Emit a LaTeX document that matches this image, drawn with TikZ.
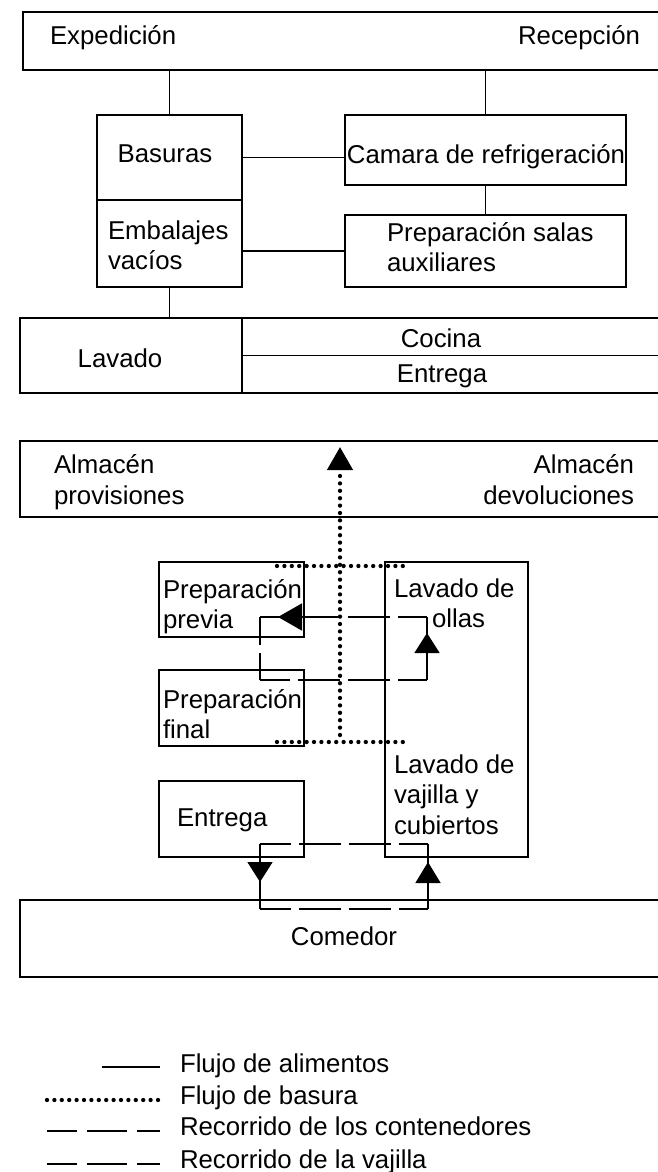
\documentclass[tikz,border=0pt]{standalone}
\usepackage{fontspec}
\setmainfont{Liberation Sans}
\usetikzlibrary{arrows.meta}
\begin{document}
\begin{tikzpicture}[x=1pt,y=-1pt,
  font=\fontsize{25.8}{30.5}\selectfont,
  box/.style={draw, line width=1.7pt, inner sep=0pt, outer sep=0pt},
  lbl/.style={inner sep=0pt, outer sep=0pt},
  food/.style={line width=1.7pt},
  waste/.style={line width=4.3pt, line cap=round, dash pattern=on 0pt off 7.4pt},
  cont/.style={line width=1.7pt, dash pattern=on 42pt off 8pt, dash phase=13pt},
  legdash/.style={line width=1.7pt, dash pattern=on 40pt off 10pt, dash phase=10pt}]
\path[use as bounding box] (0,0) rectangle (658,1172);
\clip (0,0) rectangle (658,1172);

% ---------- upper diagram ----------
\node[box, anchor=north west, minimum width=700pt, minimum height=58pt] (top) at (23,12) {};
\node[box, minimum width=145pt, minimum height=85pt] (basuras) at (169.5,157.5) {};
\node[box, minimum width=145pt, minimum height=87pt] (embalajes) at (169.5,243.5) {};
\node[box, minimum width=281pt, minimum height=70pt] (camara) at (485.5,150) {};
\node[box, minimum width=281pt, minimum height=72pt] (prepsalas) at (485.5,251) {};
\node[box, anchor=north west, minimum width=700pt, minimum height=75pt] (lavbox) at (20,318) {};

\draw[food] (basuras.north) -- (basuras.north |- top.south);
\draw[food] (camara.north) -- (camara.north |- top.south);
\draw[food] (basuras.east) -- (basuras.east -| camara.west);
\draw[food] (camara.south) -- (prepsalas.north);
\draw[food] (prepsalas.west -| embalajes.east) -- (prepsalas.west);
\draw[food] (embalajes.south) -- (embalajes.south |- lavbox.north);
\draw[food] (lavbox.north -| embalajes.east) -- (lavbox.south -| embalajes.east);
\draw[food] (lavbox.east -| embalajes.east) -- (lavbox.east);

\node[lbl, anchor=base west] (expT) at (50,45) {Expedición};
\node[lbl, anchor=base east] (recT) at (640,45) {Recepción};
\node[lbl, anchor=base] (basT) at (165,162) {Basuras};
\node[lbl, anchor=base] (camT) at (486,163) {Camara de refrigeración};
\node[lbl, anchor=base west, align=left] (embT) at (108,269.5) {Embalajes\\vacíos};
\node[lbl, anchor=base west, align=left] (psT) at (387,271.5) {Preparación salas\\auxiliares};
\node[lbl, anchor=base] (lavT) at (120,367) {Lavado};
\node[lbl, anchor=base] (cocT) at (441,347) {Cocina};
\node[lbl, anchor=base] (entT) at (442,382) {Entrega};

% ---------- lower diagram ----------
\node[box, anchor=north west, minimum width=700pt, minimum height=76pt] (almacen) at (20,441) {};
\node[box, minimum width=145pt, minimum height=75pt] (previa) at (231.5,599.5) {};
\node[box, minimum width=145pt, minimum height=76pt] (final) at (231.5,708) {};
\node[box, minimum width=145pt, minimum height=76pt] (entrega) at (231.5,819) {};
\node[box, minimum width=143pt, minimum height=295pt] (lavder) at (456.5,709.5) {};
\node[box, anchor=north west, minimum width=700pt, minimum height=77pt] (comedor) at (20,900) {};

\node[lbl, anchor=base west, align=left] (almpT) at (54,504) {Almacén\\provisiones};
\node[lbl, anchor=base east, align=right] (almdT) at (634,504) {Almacén\\devoluciones};
\node[lbl, anchor=base west, align=left] (ppT) at (163,628.5) {Preparación\\previa};
\node[lbl, anchor=base west, align=left] (loT) at (394,627.5) {Lavado de\\\hspace*{38pt}ollas};
\node[lbl, anchor=base west, align=left] (pfT) at (163,738.5) {Preparación\\final};
\node[lbl, anchor=base west, align=left] (lvT) at (394,834) {Lavado de\\vajilla y\\cubiertos};
\node[lbl, anchor=base west] (entbT) at (177,826) {Entrega};
\node[lbl, anchor=base] (comT) at (344,945) {Comedor};

% waste flow (dotted)
\coordinate (wt1) at (277,566);
\coordinate (wt2) at (404,566);
\coordinate (wb1) at (277,742);
\coordinate (wb2) at (404,742);
\coordinate (wbm) at (340,735);
\coordinate (wend) at (340,447);
\draw[waste] (wt1) -- (wt2);
\draw[waste] (wb1) -- (wb2);
\draw[waste, -{Triangle[width=25pt,length=23pt]}] (wbm) -- (wend);

% containers loop (upper)
\coordinate (u1) at (260,617);
\coordinate (u2) at (427,617);
\coordinate (u3) at (427,680);
\coordinate (u4) at (260,680);
\draw[cont] (u2) -- (u1);
\draw[cont] (u3) -- (u4);
\draw[cont, dash phase=15pt] (u4) -- (u1);
\draw[food] (u2) -- (u3);
\draw[food, -{Triangle[width=27pt,length=24pt]}] (340,617) -- (278,617);
\draw[food, -{Triangle[width=25pt,length=20pt]}] (427,665) -- (427,633);

% dishes loop (lower)
\coordinate (l1) at (260,844);
\coordinate (l2) at (428,844);
\coordinate (l3) at (428,909);
\coordinate (l4) at (260,909);
\draw[cont] (l2) -- (l1);
\draw[cont] (l3) -- (l4);
\draw[food] (l1) -- (l4);
\draw[food] (l3) -- (l2);
\draw[food, -{Triangle[width=25pt,length=20pt]}] (l1) -- (260,882);
\draw[food, -{Triangle[width=25pt,length=21pt]}] (l3) -- (428,862);

% ---------- legend ----------
\draw[food] (102,1067) -- (160,1067);
\draw[waste] (47,1100) -- (160,1100);
\draw[legdash] (47,1131) -- (160,1131);
\draw[legdash] (47,1164) -- (160,1164);
\node[lbl, anchor=base west] (lg1) at (180,1072) {Flujo de alimentos};
\node[lbl, anchor=base west] (lg2) at (180,1104) {Flujo de basura};
\node[lbl, anchor=base west] (lg3) at (180,1135) {Recorrido de los contenedores};
\node[lbl, anchor=base west] (lg4) at (180,1168) {Recorrido de la vajilla};
\end{tikzpicture}
\end{document}
